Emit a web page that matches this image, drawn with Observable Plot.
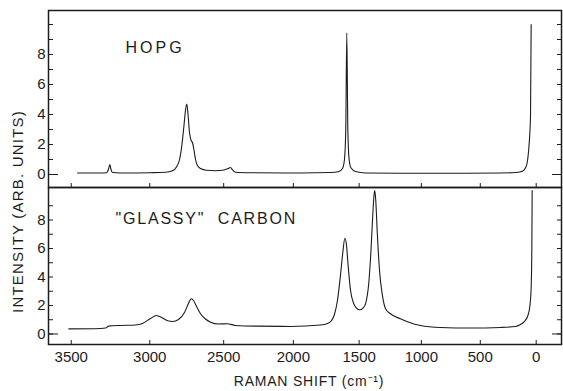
<!DOCTYPE html>
<html><head><meta charset="utf-8">
<script src="https://cdn.jsdelivr.net/npm/d3@7"></script>
<script src="https://cdn.jsdelivr.net/npm/@observablehq/plot@0.6"></script>
<style>
body{margin:0;background:#fff;}
#chart{width:563px;height:391px;position:relative;}
#chart svg{display:block;overflow:visible;}
#chart svg + svg{margin-top:-1px;}
</style></head><body><div id="chart"></div>
<script>
// Spectrometer axis is linear in wavelength (514.5 nm excitation)
const LASER_NM = 514.5;

// HOPG spectrum: Raman shift (cm^-1) and intensity (arb. units)
const hopgShift = [3461,3317,3279,3267,3258,3251,3241,3190,2995,2896,2849,2823,2802,2786,2772,2762,2753,2745,2735,2725,2714,2704,2694,2681,2660,2619,2557,2508,2473,2452,2438,2417,2311,1947,1721,1660,1629,1614,1604,1596,1588,1578,1564,1528,1450,1171,756,322,188,143,113,98,82,68,58,52,46];
const hopgIntensity = [0.1,0.1,0.12,0.35,0.67,0.35,0.13,0.1,0.12,0.15,0.25,0.5,1.0,2.0,3.3,4.3,4.7,4.0,2.8,2.3,2.1,1.6,1.0,0.6,0.4,0.28,0.25,0.28,0.38,0.47,0.3,0.15,0.12,0.1,0.13,0.18,0.4,1.0,3.0,9.45,3.0,1.0,0.45,0.2,0.1,0.08,0.08,0.1,0.13,0.18,0.27,0.45,0.8,1.7,2.8,3.9,10.0];

// "Glassy" carbon spectrum
const glassyShift = [3515,3317,3285,3265,3190,3093,3047,2995,2956,2916,2876,2849,2809,2769,2742,2723,2708,2687,2660,2626,2591,2536,2475,2417,2263,2021,1797,1744,1713,1691,1668,1645,1627,1611,1598,1587,1567,1542,1521,1495,1470,1450,1424,1407,1393,1383,1377,1369,1358,1337,1318,1291,1252,1171,1103,1007,841,585,322,188,143,107,79,61,47,40,37];
const glassyIntensity = [0.36,0.39,0.42,0.55,0.6,0.63,0.74,1.09,1.3,1.12,0.91,0.88,1.02,1.51,2.14,2.47,2.35,1.93,1.42,1.05,0.83,0.7,0.72,0.6,0.55,0.53,0.63,0.74,0.95,1.37,2.35,4.1,5.7,6.72,6.2,4.95,3.05,2.12,1.82,1.7,1.82,2.12,3.61,5.86,8.32,9.72,10.07,9.37,7.26,4.22,2.82,1.77,1.42,1.07,0.83,0.6,0.46,0.42,0.46,0.53,0.67,0.88,1.23,1.79,3.05,5.86,10.07];

const xTickShifts = [3500,3000,2500,2000,1500,1000,500,0];
const yTickLabels = [0,2,4,6,8];
const yMinorTop = [0,1,2,3,4,5,6,7,8,9,10];
const yMinorBottom = [0,1,2,3,4,5,6,7,8,9];
const panelTitles = ["HOPG", "\"GLASSY\"  CARBON"];
const xLabel = "RAMAN SHIFT (cm\u207B\u00B9)";
const yLabel = "INTENSITY (ARB. UNITS)";

const nu0 = 1e7 / LASER_NM;
const lam = s => 1e7 / (nu0 - s);
const shiftOf = l => String(Math.round((nu0 - 1e7 / l) / 10) * 10);
const xTicksLam = xTickShifts.map(lam);

const hopg = hopgShift.map((s, i) => ({shift: s, v: hopgIntensity[i]}));
const glassy = glassyShift.map((s, i) => ({shift: s, v: glassyIntensity[i]}));

const ink = "#1c1c1c";
const font = "'Liberation Sans', Arial, sans-serif";
const common = {
  width: 563, marginLeft: 48, marginRight: 2,
  x: {domain: [633.02, 508.35]},
  style: {background: "none", overflow: "visible", fontFamily: font, fontSize: "15px", color: ink}
};

function yTicks(minor) {
  return [
    Plot.axisY(minor, {anchor: "left", tickSize: -5, fill: "none", label: null}),
    Plot.axisY(minor, {anchor: "right", tickSize: -5, fill: "none", label: null}),
    Plot.axisY([0], {anchor: "left", tickSize: -10, fill: "none", label: null}),
    Plot.axisY([0], {anchor: "right", tickSize: -10, fill: "none", label: null}),
    Plot.axisY(yTickLabels, {anchor: "left", tickSize: 0, tickPadding: 3, label: null, fontSize: 15}),
    Plot.axisX(xTicksLam, {anchor: "bottom", tickSize: -4, fill: "none", label: null})
  ];
}

const topPlot = Plot.plot({
  ...common, height: 188, marginTop: 10, marginBottom: 1,
  y: {domain: [-0.867, 10.933]},
  marks: [
    ...yTicks(yMinorTop),
    Plot.line(hopg, {x: d => lam(d.shift), y: "v", stroke: ink, strokeWidth: 1.1, curve: "monotone-x"}),
    Plot.frame({stroke: ink, strokeWidth: 1.5}),
    Plot.text([panelTitles[0]], {frameAnchor: "top-left", dx: 77, dy: 37, textAnchor: "start", lineAnchor: "middle", fontSize: 16}),
    Plot.text([yLabel], {frameAnchor: "left", rotate: -90, dx: -30, dy: 112.5, textAnchor: "middle", lineAnchor: "middle", fontSize: 15})
  ]
});

const bottomPlot = Plot.plot({
  ...common, height: 204, marginTop: 0, marginBottom: 47,
  y: {domain: [-0.737, 10.28]},
  marks: [
    ...yTicks(yMinorBottom),
    Plot.axisX(xTicksLam, {anchor: "bottom", tickSize: 0, tickPadding: 7, tickFormat: shiftOf, label: null, fontSize: 15}),
    Plot.line(glassy, {x: d => lam(d.shift), y: "v", stroke: ink, strokeWidth: 1.1, curve: "monotone-x"}),
    Plot.frame({stroke: ink, strokeWidth: 1.5}),
    Plot.text([panelTitles[1]], {frameAnchor: "top-left", dx: 67, dy: 31, textAnchor: "start", lineAnchor: "middle", fontSize: 16}),
    Plot.text([xLabel], {frameAnchor: "bottom", dx: 4, dy: 37, lineAnchor: "middle", fontSize: 14})
  ]
});

const chart = document.getElementById("chart");
chart.append(topPlot, bottomPlot);

const spacing = {"HOPG": 3, [panelTitles[1]]: 1.8, [xLabel]: 0.8, [yLabel]: 1.2};
d3.select(chart).selectAll("text").each(function () {
  const s = spacing[this.textContent];
  if (s != null) this.setAttribute("letter-spacing", s);
});
</script></body></html>
